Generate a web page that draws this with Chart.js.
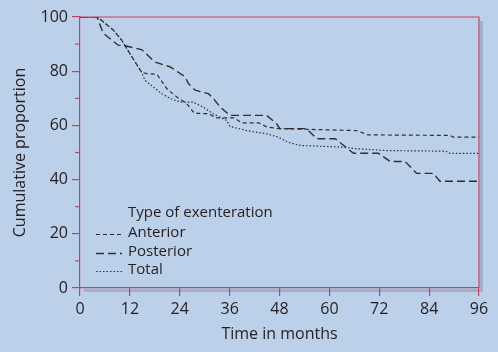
<!DOCTYPE html>
<html>
<head>
<meta charset="utf-8">
<script src="https://cdn.jsdelivr.net/npm/chart.js@4.4.1/dist/chart.umd.min.js"></script>
<style>
  html, body { margin: 0; padding: 0; background: #bdd0ea; }
</style>
</head>
<body>
<canvas id="km" width="498" height="352"></canvas>
<script>
// survival curves (months, cumulative %)
var anteriorTime = [0, 4.2, 8, 10, 12, 14, 14.8, 16, 18.5, 20.9, 23.3, 25.7, 27.5, 31, 32.6, 37, 39, 43, 45, 48, 66.5, 69.3, 89, 89.8, 96];
var anteriorSurv = [100, 100, 95.2, 91.5, 86.5, 81.6, 79.7, 79.1, 78.9, 73.5, 70.5, 68, 64.5, 64.3, 62.8, 62.8, 60.9, 60.9, 59.4, 58.8, 58.1, 56.5, 56.3, 55.7, 55.7];

var posteriorTime = [0, 4.1, 5.6, 9.2, 10.8, 14.8, 18, 21.7, 25.3, 26.1, 27.7, 30.9, 32.1, 33.7, 36.1, 44.9, 47.3, 48.1, 54.5, 57, 61.4, 65.8, 71.8, 74.6, 78.2, 81, 85, 86.6, 96];
var posteriorSurv = [100, 100, 94, 89.6, 89.4, 88, 83.4, 81.6, 77.9, 75.4, 73, 71.7, 69.9, 66.8, 63.7, 63.7, 60.6, 58.8, 58.8, 55.1, 55.1, 49.7, 49.7, 46.7, 46.7, 42.3, 42.3, 39.4, 39.4];

var totalTime = [0, 4.2, 8, 10, 12, 14, 14.8, 15.6, 17.6, 19.7, 21.7, 24.1, 27.2, 29.7, 32.1, 35.3, 36.1, 40.1, 44.9, 47.7, 50, 53, 63, 66.5, 74, 88, 89, 96];
var totalSurv = [100, 100, 95.2, 91.5, 86.5, 81.6, 79.7, 76.7, 74.2, 71.7, 69.9, 68.6, 68.6, 66.7, 64.2, 61.8, 59.6, 58.1, 56.9, 55.7, 53.8, 52.6, 52, 51.4, 50.7, 50.5, 49.7, 49.7];

var xTicks = [0, 12, 24, 36, 48, 60, 72, 84, 96];
var yTicks = [0, 20, 40, 60, 80, 100];
var yMinor = [10, 30, 50, 70, 90];

var legendTitle = 'Type of exenteration';
var seriesNames = ['Anterior', 'Posterior', 'Total'];

var RED = '#c8405f';
var INK = '#231f20';
var FONT = '"Open Sans", sans-serif';

function toPoints(t, v) {
  return t.map(function (x, i) { return { x: x, y: v[i] }; });
}

var dashes = [[4, 3], [8, 4], [1.5, 2]];
var widths = [1.2, 1.4, 1.2];

// frame, shadow, minor ticks and the in-plot legend
var framePlugin = {
  id: 'frame',
  beforeDraw: function (chart) {
    var a = chart.chartArea, ctx = chart.ctx;
    ctx.save();
    ctx.fillStyle = '#9fb2cc';
    ctx.fillRect(a.right + 1, a.top + 4, 3, a.bottom - a.top);
    ctx.fillRect(a.left + 4, a.bottom + 1, a.right - a.left - 1, 3);
    ctx.restore();
  },
  afterDraw: function (chart) {
    var a = chart.chartArea, ctx = chart.ctx;
    var ys = chart.scales.y;
    ctx.save();
    ctx.strokeStyle = RED;
    ctx.lineWidth = 1.2;
    ctx.beginPath();
    ctx.moveTo(a.left, a.top);
    ctx.lineTo(a.right, a.top);
    ctx.lineTo(a.right, a.bottom);
    ctx.stroke();
    yMinor.forEach(function (v) {
      var py = ys.getPixelForValue(v);
      ctx.beginPath();
      ctx.moveTo(a.left - 5, py);
      ctx.lineTo(a.left, py);
      ctx.stroke();
    });

    // legend
    ctx.fillStyle = INK;
    ctx.font = '15px ' + FONT;
    ctx.textBaseline = 'middle';
    ctx.fillText(legendTitle, 128, 213);
    var rows = [233, 252, 270];
    chart.data.datasets.forEach(function (ds, i) {
      ctx.strokeStyle = ds.borderColor;
      ctx.lineWidth = ds.borderWidth;
      ctx.setLineDash(ds.borderDash);
      ctx.beginPath();
      ctx.moveTo(96, rows[i] + 1.5);
      ctx.lineTo(122, rows[i] + 1.5);
      ctx.stroke();
      ctx.setLineDash([]);
      ctx.fillText(ds.label, 128, rows[i]);
    });
    ctx.restore();
  }
};

new Chart(document.getElementById('km'), {
  type: 'line',
  data: {
    datasets: [
      { label: seriesNames[0], data: toPoints(anteriorTime, anteriorSurv) },
      { label: seriesNames[1], data: toPoints(posteriorTime, posteriorSurv) },
      { label: seriesNames[2], data: toPoints(totalTime, totalSurv) }
    ].map(function (ds, i) {
      ds.borderColor = '#2e2e2e';
      ds.borderWidth = widths[i];
      ds.borderDash = dashes[i];
      ds.pointRadius = 0;
      ds.tension = 0;
      ds.fill = false;
      return ds;
    })
  },
  options: {
    responsive: false,
    animation: false,
    layout: { padding: { top: 17, right: 19, left: 0, bottom: 0 } },
    plugins: { legend: { display: false }, tooltip: { enabled: false } },
    scales: {
      x: {
        type: 'linear',
        min: 0,
        max: 96,
        afterBuildTicks: function (s) { s.ticks = xTicks.map(function (v) { return { value: v }; }); },
        afterFit: function (s) { s.height = 64; },
        grid: { drawOnChartArea: false, color: RED, tickLength: 8, lineWidth: 1.2 },
        border: { color: RED, width: 1.2 },
        ticks: { color: INK, font: { family: FONT, size: 16 }, padding: 4, maxRotation: 0 },
        title: { display: true, text: 'Time in months', color: INK, font: { family: FONT, size: 16 }, padding: { top: 0, bottom: 8 } }
      },
      y: {
        min: 0,
        max: 100,
        afterBuildTicks: function (s) { s.ticks = yTicks.map(function (v) { return { value: v }; }); },
        afterFit: function (s) { s.width = 80; },
        grid: { drawOnChartArea: false, color: RED, tickLength: 8, lineWidth: 1.2 },
        border: { color: RED, width: 1.2 },
        ticks: { color: INK, font: { family: FONT, size: 16 }, padding: 4 },
        title: { display: true, text: 'Cumulative proportion', color: INK, font: { family: FONT, size: 16 }, padding: { top: 11, bottom: 0 } }
      }
    }
  },
  plugins: [framePlugin]
});
</script>
</body>
</html>
